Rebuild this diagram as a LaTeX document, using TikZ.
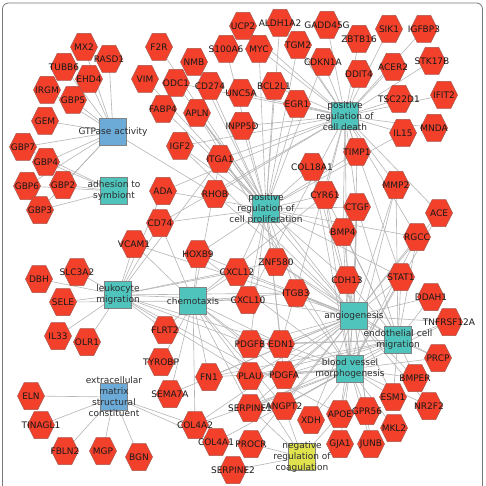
\documentclass[tikz,border=0pt]{standalone}
\usepackage{fontspec}
\setmainfont{DejaVu Sans}
\pgfdeclarelayer{bg}
\pgfdeclarelayer{edges}
\pgfdeclarelayer{labels}
\pgfsetlayers{bg,edges,main,labels}
\definecolor{hexred}{RGB}{243,64,42}
\definecolor{hexborder}{RGB}{170,85,75}
\definecolor{termteal}{RGB}{78,196,189}
\definecolor{termblue}{RGB}{108,170,216}
\definecolor{termyellow}{RGB}{224,226,78}
\definecolor{termborder}{RGB}{130,130,130}
\definecolor{edgegray}{RGB}{182,182,182}
\definecolor{framegray}{RGB}{120,120,120}
\definecolor{genetext}{RGB}{25,25,25}
\definecolor{termtext}{RGB}{45,45,45}
\tikzset{
  genepos/.style={circle, inner sep=0pt, minimum size=27pt, draw=none, fill=none},
  hexshape/.style={fill=hexred, draw=hexborder, line width=0.5pt},
  genelabel/.style={inner sep=0pt, font=\fontsize{9}{11}\selectfont, text=genetext},
  termbox/.style={rectangle, inner sep=0pt, minimum size=27pt, draw=termborder, line width=0.6pt},
  termlabel/.style={inner sep=0pt, align=center, font=\fontsize{9}{11}\selectfont, text=termtext},
  edge/.style={draw=edgegray, line width=0.6pt},
  framebox/.style={draw=framegray, line width=0.8pt, rounded corners=6pt}
}
\newcommand\genenode[4]{%
  \node[genepos] (#1) at (#2,#3) {};
  \path[hexshape] (#2,#3) +(-13.5,0) -- +(-6.75,-13.5) -- +(6.75,-13.5) -- +(13.5,0) -- +(6.75,13.5) -- +(-6.75,13.5) -- cycle;
  \begin{pgfonlayer}{labels}\node[genelabel] at (#1.center) {#4};\end{pgfonlayer}
}
\newcommand\termnode[5]{%
  \node[termbox, fill=#4] (#1) at (#2,#3) {};
  \begin{pgfonlayer}{labels}\node[termlabel] at (#1.center) {#5};\end{pgfonlayer}
}
\newcommand\links[2]{%
  \begin{pgfonlayer}{edges}
  \foreach \g in {#2} {\draw[edge] (#1.center) -- (\g.center);}
  \end{pgfonlayer}
}
\begin{document}
\begin{tikzpicture}[x=1pt,y=-1pt]
\useasboundingbox (0,0) rectangle (485,486);
\begin{pgfonlayer}{bg}
\fill[white] (0,0) rectangle (485,486);
\draw[framebox] (2.5,3) rectangle (482.5,500);
\end{pgfonlayer}
% genes
\genenode{MX2}{84}{47}{MX2}
\genenode{RASD1}{109}{59}{RASD1}
\genenode{TUBB6}{64}{67}{TUBB6}
\genenode{EHD4}{89}{79}{EHD4}
\genenode{IRGM}{47}{90}{IRGM}
\genenode{GBP5}{73}{100}{GBP5}
\genenode{GEM}{45}{121}{GEM}
\genenode{GBP7}{23}{147}{GBP7}
\genenode{GBP4}{46}{162}{GBP4}
\genenode{GBP6}{27}{186}{GBP6}
\genenode{GBP2}{63}{185}{GBP2}
\genenode{GBP3}{40}{210}{GBP3}
\genenode{F2R}{159}{47}{F2R}
\genenode{NMB}{194}{62}{NMB}
\genenode{VIM}{145}{79}{VIM}
\genenode{ODC1}{176}{83}{ODC1}
\genenode{CD274}{210}{86}{CD274}
\genenode{FABP4}{163}{109}{FABP4}
\genenode{APLN}{197}{113}{APLN}
\genenode{IGF2}{180}{146}{IGF2}
\genenode{ITGA1}{220}{159}{ITGA1}
\genenode{ADA}{163}{191}{ADA}
\genenode{RHOB}{215}{194}{RHOB}
\genenode{CD74}{160}{223}{CD74}
\genenode{VCAM1}{134}{244}{VCAM1}
\genenode{UCP2}{243}{26}{UCP2}
\genenode{S100A6}{226}{49}{S100A6}
\genenode{ALDH1A2}{280}{23}{ALDH1A2}
\genenode{MYC}{259}{49}{MYC}
\genenode{TGM2}{298}{45}{TGM2}
\genenode{UNC5A}{241}{93}{UNC5A}
\genenode{BCL2L1}{274}{86}{BCL2L1}
\genenode{EGR1}{297}{104}{EGR1}
\genenode{INPP5D}{242}{126}{INPP5D}
\genenode{GADD45G}{327}{25}{GADD45G}
\genenode{SIK1}{389}{29}{SIK1}
\genenode{IGFBP3}{424}{29}{IGFBP3}
\genenode{ZBTB16}{359}{39}{ZBTB16}
\genenode{CDKN1A}{323}{62}{CDKN1A}
\genenode{DDIT4}{359}{74}{DDIT4}
\genenode{ACER2}{393}{67}{ACER2}
\genenode{STK17B}{432}{61}{STK17B}
\genenode{TSC22D1}{399}{99}{TSC22D1}
\genenode{IFIT2}{444}{95}{IFIT2}
\genenode{IL15}{403}{133}{IL15}
\genenode{MNDA}{434}{128}{MNDA}
\genenode{TIMP1}{357}{152}{TIMP1}
\genenode{COL18A1}{312}{167}{COL18A1}
\genenode{MMP2}{396}{185}{MMP2}
\genenode{CYR61}{325}{195}{CYR61}
\genenode{CTGF}{357}{207}{CTGF}
\genenode{ACE}{439}{213}{ACE}
\genenode{BMP4}{343}{232}{BMP4}
\genenode{RGCC}{417}{237}{RGCC}
\genenode{HOXB9}{198}{254}{HOXB9}
\genenode{CXCL12}{237}{272}{CXCL12}
\genenode{ZNF580}{276}{262}{ZNF580}
\genenode{CDH13}{347}{280}{CDH13}
\genenode{STAT1}{401}{277}{STAT1}
\genenode{ITGB3}{296}{293}{ITGB3}
\genenode{CXCL10}{248}{300}{CXCL10}
\genenode{DDAH1}{431}{297}{DDAH1}
\genenode{TNFRSF12A}{449}{322}{TNFRSF12A}
\genenode{DBH}{39}{279}{DBH}
\genenode{SLC3A2}{77}{272}{SLC3A2}
\genenode{SELE}{63}{302}{SELE}
\genenode{IL33}{58}{336}{IL33}
\genenode{OLR1}{87}{342}{OLR1}
\genenode{FLRT2}{165}{330}{FLRT2}
\genenode{TYROBP}{161}{362}{TYROBP}
\genenode{PDGFB}{250}{344}{PDGFB}
\genenode{EDN1}{281}{344}{EDN1}
\genenode{PRCP}{438}{358}{PRCP}
\genenode{FN1}{209}{377}{FN1}
\genenode{PLAU}{250}{376}{PLAU}
\genenode{PDGFA}{284}{375}{PDGFA}
\genenode{BMPER}{415}{378}{BMPER}
\genenode{SEMA7A}{170}{394}{SEMA7A}
\genenode{ELN}{31}{396}{ELN}
\genenode{ESM1}{393}{397}{ESM1}
\genenode{NR2F2}{429}{406}{NR2F2}
\genenode{SERPINE1}{250}{408}{SERPINE1}
\genenode{ANGPT2}{284}{406}{ANGPT2}
\genenode{APOE}{340}{414}{APOE}
\genenode{GPR56}{367}{411}{GPR56}
\genenode{XDH}{311}{420}{XDH}
\genenode{MKL2}{394}{428}{MKL2}
\genenode{TINAGL1}{41}{425}{TINAGL1}
\genenode{COL4A2}{195}{425}{COL4A2}
\genenode{COL4A1}{216}{442}{COL4A1}
\genenode{PROCR}{251}{444}{PROCR}
\genenode{GJA1}{340}{444}{GJA1}
\genenode{JUNB}{371}{444}{JUNB}
\genenode{FBLN2}{65}{451}{FBLN2}
\genenode{MGP}{103}{451}{MGP}
\genenode{BGN}{139}{457}{BGN}
\genenode{SERPINE2}{233}{470}{SERPINE2}
% terms
\termnode{GTP}{113}{132}{termblue}{GTPase activity}
\termnode{ADH}{114}{191}{termteal}{adhesion to\\symbiont}
\termnode{PCD}{345}{116}{termteal}{positive\\regulation of\\cell death}
\termnode{PCP}{266}{209}{termteal}{positive\\regulation of\\cell proliferation}
\termnode{LEU}{118}{295}{termteal}{leukocyte\\migration}
\termnode{CHE}{193}{301}{termteal}{chemotaxis}
\termnode{ANG}{354}{316}{termteal}{angiogenesis}
\termnode{ECM}{398}{340}{termteal}{endothelial cell\\migration}
\termnode{BVM}{350}{369}{termteal}{blood vessel\\morphogenesis}
\termnode{NRC}{302}{457}{termyellow}{negative\\regulation of\\coagulation}
\termnode{EMS}{114}{397}{termblue}{extracellular\\matrix\\structural\\constituent}
% connectors
\links{GTP}{MX2,RASD1,TUBB6,EHD4,IRGM,GBP5,GEM,GBP7,GBP4,GBP6,GBP2,GBP3,RHOB}
\links{ADH}{GBP7,GBP4,GBP6,GBP2,GBP3}
\links{PCD}{UCP2,ALDH1A2,GADD45G,SIK1,IGFBP3,ZBTB16,MYC,TGM2,CDKN1A,DDIT4,ACER2,STK17B,BCL2L1,EGR1,TSC22D1,IFIT2,IL15,MNDA,TIMP1,UNC5A,INPP5D,CYR61,CTGF,BMP4,MMP2,RGCC,ACE,RHOB,CXCL10,STAT1,ODC1,CD74,ITGA1,EDN1,CDH13,ADA,IGF2}
\links{PCP}{F2R,NMB,ODC1,CD274,APLN,IGF2,ITGA1,ADA,CD74,FABP4,VIM,S100A6,MYC,BCL2L1,EGR1,TGM2,CDKN1A,ALDH1A2,INPP5D,COL18A1,CYR61,CTGF,BMP4,IL15,TIMP1,ZNF580,CXCL12,CXCL10,HOXB9,ITGB3,PDGFB,EDN1,PDGFA,CDH13,RGCC,STAT1}
\links{LEU}{VCAM1,SLC3A2,DBH,SELE,IL33,OLR1,CD74,ITGA1,ADA,CXCL12,CXCL10,ITGB3,PDGFB,EDN1,ZNF580,PLAU,FLRT2,APOE}
\links{CHE}{CXCL12,CXCL10,FLRT2,TYROBP,SEMA7A,FN1,PDGFB,EDN1,PLAU,PDGFA,SERPINE1,CD74,VCAM1,HOXB9,ITGB3,ITGA1,COL4A2,CYR61,ANGPT2,SELE}
\links{ANG}{CDH13,STAT1,RGCC,MMP2,CTGF,CYR61,BMP4,ITGB3,ZNF580,CXCL12,CXCL10,HOXB9,RHOB,ITGA1,APLN,IGF2,PDGFB,EDN1,PDGFA,PLAU,SERPINE1,ANGPT2,XDH,GPR56,ESM1,NR2F2,DDAH1,TNFRSF12A,COL18A1,COL4A2,FN1,ACE,APOE,JUNB,PRCP,BMPER,SEMA7A,VCAM1,PROCR,TIMP1}
\links{ECM}{CDH13,STAT1,ITGB3,RGCC,MMP2,DDAH1,TNFRSF12A,PRCP,BMPER,ESM1,ANGPT2,PDGFB,EDN1,PDGFA,BMP4,CYR61,CTGF,ZNF580,PLAU,SERPINE1,FN1}
\links{BVM}{MMP2,RGCC,CTGF,CYR61,BMP4,ITGB3,CDH13,STAT1,PDGFB,EDN1,PDGFA,PLAU,SERPINE1,ANGPT2,XDH,APOE,GPR56,ESM1,NR2F2,BMPER,MKL2,JUNB,GJA1,TNFRSF12A,ACE,COL4A1,COL4A2,APLN,HOXB9,COL18A1,FN1,PRCP}
\links{NRC}{SERPINE1,SERPINE2,PROCR,APOE,PLAU,ANGPT2}
\links{EMS}{ELN,TINAGL1,FBLN2,MGP,BGN,COL4A2,COL4A1}
\end{tikzpicture}
\end{document}
